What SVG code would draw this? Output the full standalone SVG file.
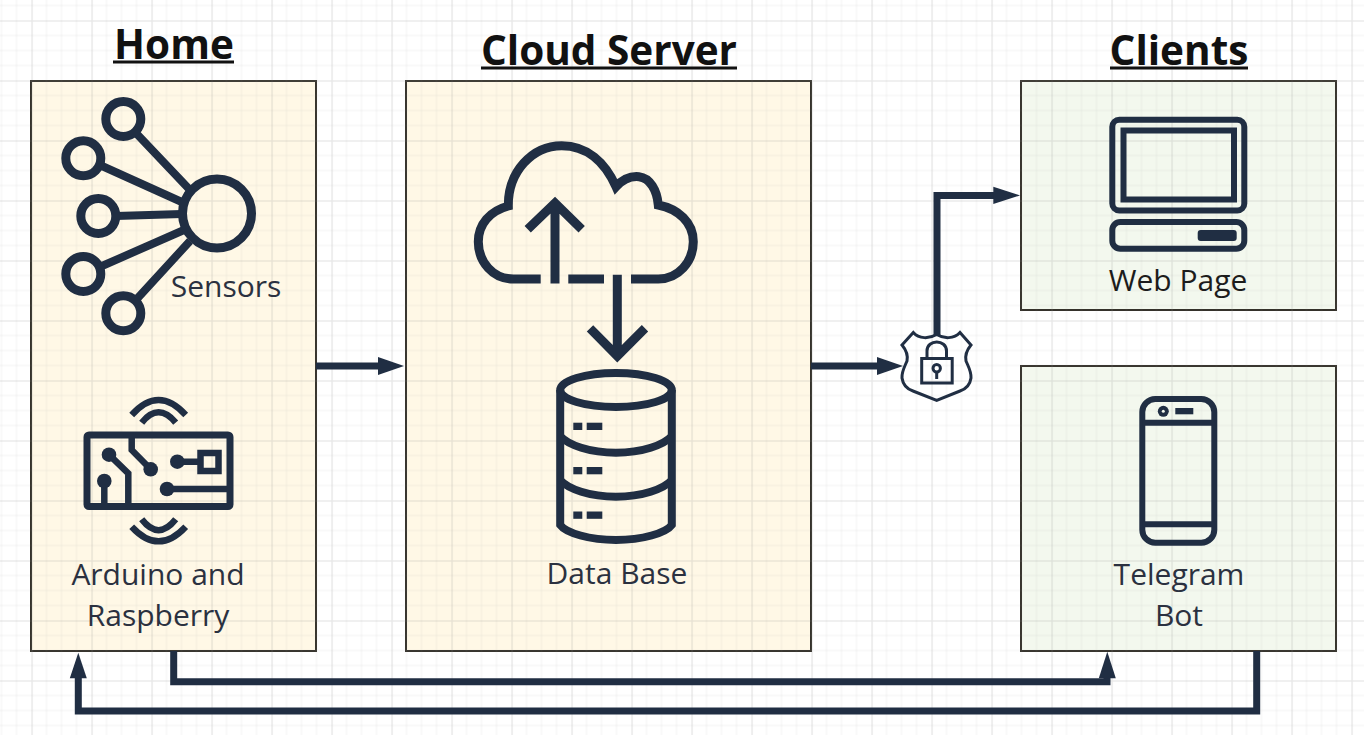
<svg xmlns="http://www.w3.org/2000/svg" width="1364" height="735" viewBox="0 0 1364 735">
<style>
.box{stroke:#35322b;stroke-width:2}
.y{fill:#fff8e6}.g{fill:#f3f8ee}
.ico{fill:none;stroke:#202e43;stroke-linejoin:miter}
.solid{fill:#202e43;stroke:none}
.conn{fill:none;stroke:#202e43;stroke-width:7}
.lbl{font-family:"Open Sans","Liberation Sans",sans-serif;font-size:30px;fill:#2b3140;text-anchor:middle}
.ttl{font-family:"Open Sans","Liberation Sans",sans-serif;font-size:40.5px;font-weight:700;fill:#111;text-anchor:middle}
.ul{stroke:#111;stroke-width:2.8}
</style>
<defs>
<pattern id="grid" x="31.5" y="20.5" width="60" height="60" patternUnits="userSpaceOnUse">
<path d="M15 0V60M30 0V60M45 0V60M0 15H60M0 30H60M0 45H60" fill="none" stroke="#8a8a8a" stroke-opacity=".11" stroke-width="1"/>
<path d="M0 0V60M0 0H60" fill="none" stroke="#8a8a8a" stroke-opacity=".26" stroke-width="1.2" transform="translate(.5 .5)"/>
</pattern>
</defs>
<rect width="1364" height="735" fill="#fff"/>
<g id="home"><rect class="box y" x="31" y="81" width="285" height="570"/></g>
<g id="cloud-server"><rect class="box y" x="406" y="81" width="405" height="570"/></g>
<g id="web-page"><rect class="box g" x="1021" y="81" width="315" height="229"/></g>
<g id="telegram-bot"><rect class="box g" x="1021" y="366" width="315" height="285"/></g>
<rect width="1364" height="735" fill="url(#grid)"/>

<g id="titles">
<text class="ttl" x="174" y="58.500">Home</text><line class="ul" x1="113" y1="62" x2="234" y2="62"/>
<text class="ttl" x="609" y="64.500">Cloud Server</text><line class="ul" x1="481" y1="68" x2="737" y2="68"/>
<text class="ttl" x="1179" y="64.500">Clients</text><line class="ul" x1="1110" y1="68" x2="1248" y2="68"/>
</g>

<g id="sensors">
<g class="ico" stroke-width="8">
<path d="M135 132L190 190M102 166L184 203M116 216L182 214M102 266L184 230M135 301L190 241"/>
</g>
<g class="ico" stroke-width="9">
<circle cx="217" cy="213.500" r="34.500"/>
<circle cx="123.300" cy="119" r="17.500"/><circle cx="83.300" cy="158.300" r="17.500"/><circle cx="98.300" cy="216" r="17.500"/><circle cx="83.300" cy="274" r="17.500"/><circle cx="123.300" cy="313.300" r="17.500"/>
</g>
<text class="lbl" x="226" y="297">Sensors</text>
</g>

<g id="arduino">
<g class="ico" stroke-width="6.500">
<path d="M131.700 415Q158.500 385 185.700 415M141.700 422.700Q158.500 402 175.700 422.700M131.700 526.700Q158.500 556 185.700 526.700M141.700 519.300Q158.500 541 175.700 519.300"/>
<rect x="200.500" y="453" width="18" height="18"/>
<path d="M109 454.700L128.300 473.300V505M104.300 481V505M131.700 438V450L150.700 469.300M177.300 461.700H200M167 489H228"/>
</g>
<rect class="ico" stroke-width="7" x="87" y="435" width="143" height="71.500" rx="2"/>
<g class="solid"><circle cx="109" cy="454.700" r="7.300"/><circle cx="104.300" cy="481" r="7.300"/><circle cx="150.700" cy="469.300" r="7.300"/><circle cx="177.300" cy="461.700" r="7.300"/><circle cx="167" cy="489" r="7.300"/></g>
<text class="lbl" x="158" y="585">Arduino and</text>
<text class="lbl" x="158" y="626">Raspberry</text>
</g>

<g id="cloud">
<path class="ico" stroke-width="9" d="M540.700 279H513.300C493 279 478.300 262 478.300 241.700C478.300 224 490 211 508.300 206C508 172 532 145.700 561.700 145.700C587 145.700 605 162 616 186.700C624 178 632 176 639 176.700C650 178 657 190 658.300 205C678 209 693.300 222 693.300 241.700C693.300 262 678 279 658.300 279H631M568.300 279H604"/>
<path class="ico" stroke-width="9" d="M555 283.500V204M527.700 229.300L555 203L581.700 229.300M617.300 274.700V354M590 328.300L617.300 356L645 328.300"/>
</g>

<g id="database">
<g class="ico" stroke-width="8">
<ellipse cx="616" cy="390" rx="55.800" ry="17"/>
<path d="M560.200 390V525C566 533 590 540 616 540S666 533 671.800 525V390M560.200 436C568 445 590 452.700 616 452.700S664 445 671.800 436M560.200 480C568 489 590 496.700 616 496.700S664 489 671.800 480"/>
</g>
<g class="solid">
<rect x="573.300" y="422.700" width="9" height="7.300"/><rect x="586.700" y="422.700" width="15.600" height="7.300"/>
<rect x="573.300" y="467" width="9" height="7.300"/><rect x="586.700" y="467" width="15.600" height="7.300"/>
<rect x="573.300" y="511.500" width="9" height="7.300"/><rect x="586.700" y="511.500" width="15.600" height="7.300"/>
</g>
<text class="lbl" x="617" y="584">Data Base</text>
</g>

<g id="shield">
<g class="ico" stroke-width="3">
<path d="M913.300 332.500C919 339 929 339 936.700 334.500C944 339 954 339 960 332.500L971 345C966 351 965 356 966 361C969 368 971.500 372 971 378C970 385 966 389 960 391L936.700 400.500L913 391C907 389 903 385 902 378C901.500 372 904 368 907 361C908 356 907 351 902 345Z"/>
<rect x="921.700" y="358.500" width="30.500" height="24.500"/>
<path d="M927 358.500V351C927 339 946.500 339 946.500 351V358.500"/>
<circle cx="936.700" cy="368.300" r="3.700"/><path d="M936.700 372V379"/>
</g>
</g>

<g id="computer">
<g class="ico" stroke-width="6">
<rect x="1112.300" y="119.700" width="132" height="90.700" rx="7"/>
<rect x="1123.500" y="130.500" width="110.500" height="69"/>
<rect x="1112.300" y="222" width="132" height="26.700" rx="8"/>
</g>
<rect class="solid" x="1197.700" y="230" width="39" height="11" rx="3"/>
<text class="lbl" x="1178" y="291" style="fill:#1c1c1c">Web Page</text>
</g>

<g id="phone">
<g class="ico" stroke-width="6">
<rect x="1142.300" y="399" width="72" height="143.700" rx="13"/>
<path d="M1142.300 422.700H1214.300M1142.300 524.300H1214.300"/>
</g>
<circle class="solid" cx="1163.300" cy="411.300" r="5.500"/><circle cx="1163.300" cy="411.300" r="1.500" fill="#f3f8ee"/>
<rect class="solid" x="1175.300" y="408" width="18" height="6.300"/>
<text class="lbl" x="1179" y="585">Telegram</text>
<text class="lbl" x="1179" y="626">Bot</text>
</g>

<g id="connectors">
<path class="conn" d="M316 366H382"/><path class="solid" d="M404 366L378 357V375Z"/>
<path class="conn" d="M811 366H880"/><path class="solid" d="M903 366L877 357V375Z"/>
<path class="conn" d="M937 335V195.400H996" stroke-linejoin="miter"/><path class="solid" d="M1020 195.400L993.300 186.700V204.100Z"/>
<path class="conn" d="M173.700 651V681.700H1107V675"/><path class="solid" d="M1107.300 651.700L1098.800 678.300H1115.800Z"/>
<path class="conn" d="M1256.700 651V711H78.300V676"/><path class="solid" d="M78.300 652.700L69.800 678.300H86.800Z"/>
</g>
</svg>
